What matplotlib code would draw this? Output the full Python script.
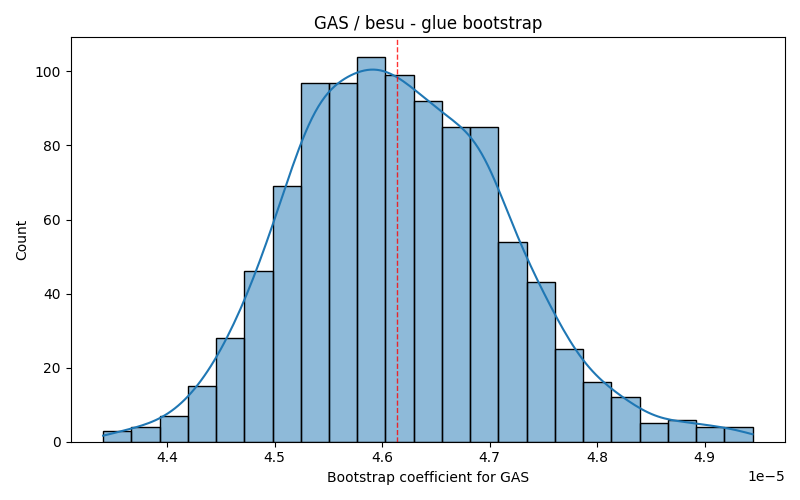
import numpy as np
import matplotlib
matplotlib.use("Agg")
import matplotlib.pyplot as plt
import seaborn as sns

# bootstrap histogram (1000 resamples)
bin_left = 4.3406e-5
bin_width = 0.02626e-5
counts = [3, 4, 7, 15, 28, 46, 69, 97, 97, 104, 99, 92,
          85, 85, 54, 43, 25, 16, 12, 5, 6, 4, 4]
point_estimate = 4.6143e-5

edges = bin_left + bin_width * np.arange(len(counts) + 1)
centers = (edges[:-1] + edges[1:]) / 2
samples = np.repeat(centers, counts)

fig, ax = plt.subplots(figsize=(8, 5), dpi=100)

# kde spans the full data range, like the original samples
sns.histplot(x=samples, bins=edges, kde=True, ax=ax,
             kde_kws={'cut': 3, 'clip': (edges[0], edges[-1]), 'bw_adjust': 0.92})
ax.axvline(point_estimate, color='red', linestyle='--', linewidth=1, alpha=0.8)

ax.set_title('GAS / besu - glue bootstrap')
ax.set_xlabel('Bootstrap coefficient for GAS')
ax.set_ylabel('Count')

plt.tight_layout()
plt.savefig('out.png')
